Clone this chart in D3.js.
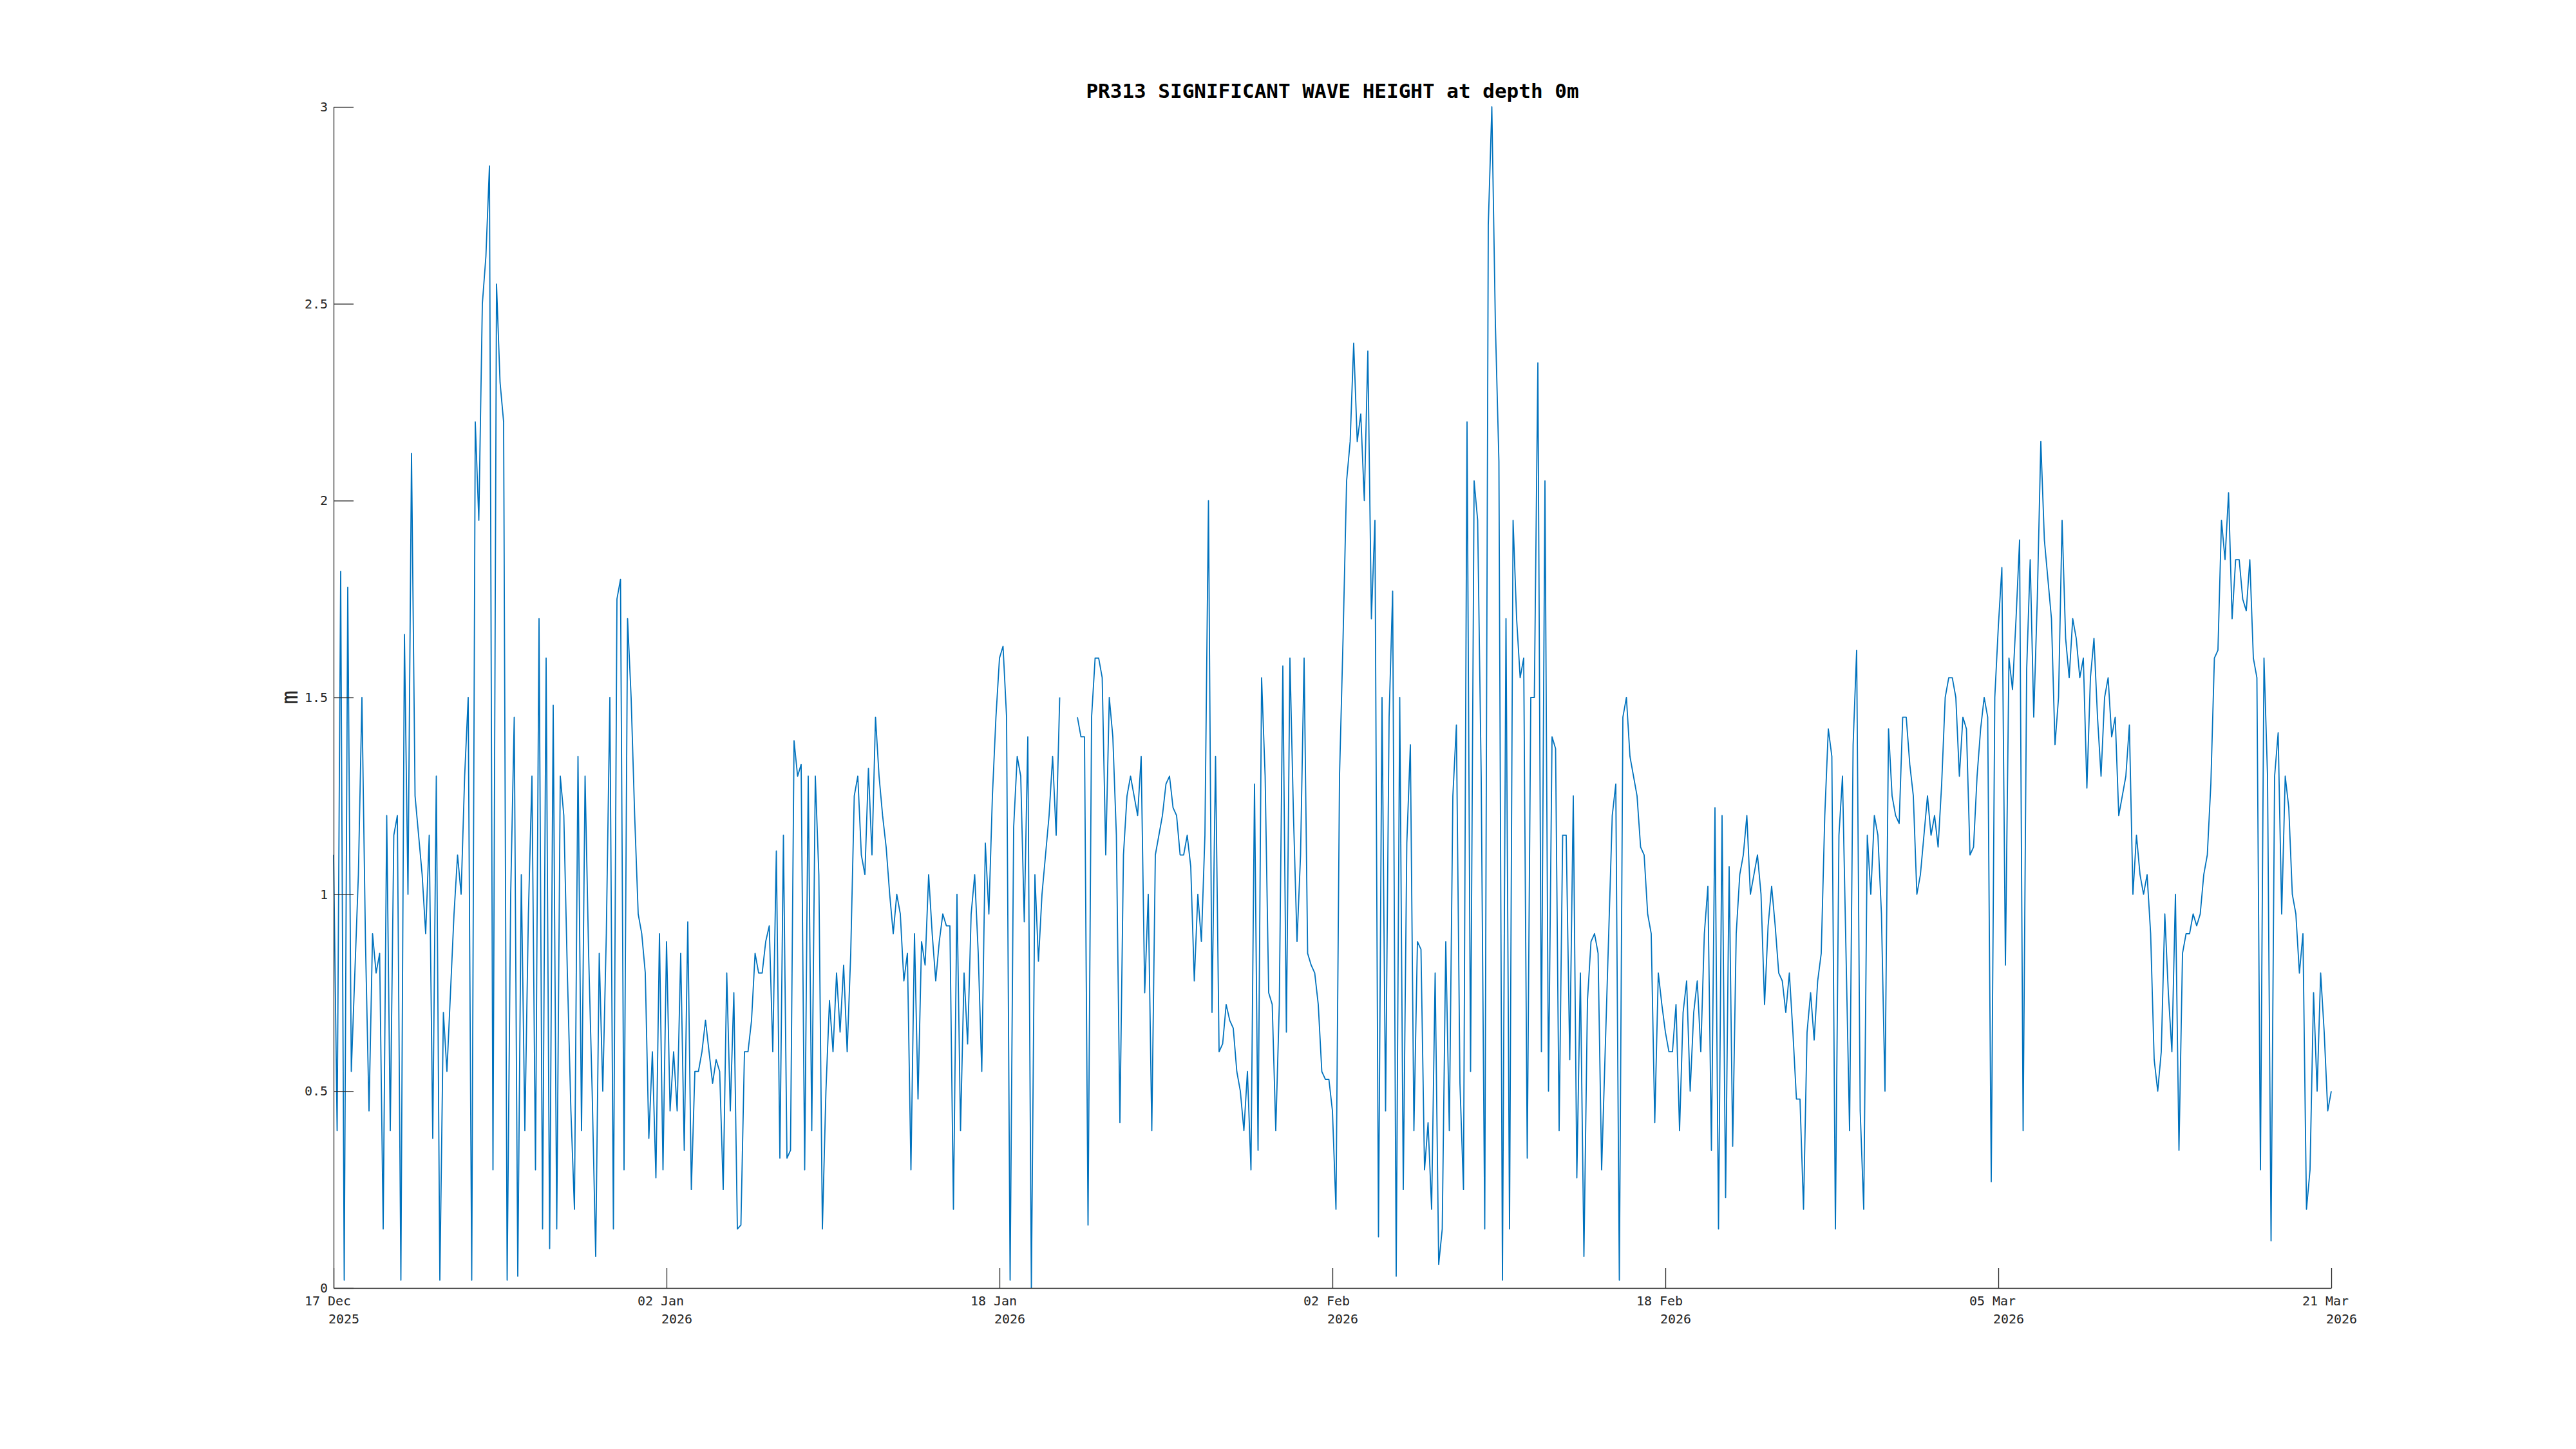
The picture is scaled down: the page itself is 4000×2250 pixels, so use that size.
<!DOCTYPE html>
<html><head><meta charset="utf-8">
<script src="https://cdn.jsdelivr.net/npm/d3@7"></script>
<style>html,body{margin:0;padding:0;background:#fff;}</style>
</head><body>
<svg id="chart" width="4000" height="2250"></svg>
<script>
const chartTitle = "PR313 SIGNIFICANT WAVE HEIGHT at depth 0m";
const yLabel = "m";
const startTime = "2025-12-17T00:00:00Z";
const endTime = "2026-03-21T00:00:00Z";
const sampleHours = 4;
const xTickLabels = ["17 Dec","02 Jan","18 Jan","02 Feb","18 Feb","05 Mar","21 Mar"];
const xTickYears = ["2025","2026","2026","2026","2026","2026","2026"];
const yTicks = [0,0.5,1,1.5,2,2.5,3];
const yTickLabels = ["0","0.5","1","1.5","2","2.5","3"];

// significant wave height (m), one value every 4 h from 17 Dec 2025 00:00 (null = no data)
const waveDec = [
1.1,0.4,1.82,0.02,1.78,0.55, 0.8,1.05,1.5,0.88,0.45,0.9, 0.8,0.85,0.15,1.2,0.4,1.15,
1.2,0.02,1.66,1.0,2.12,1.25, 1.15,1.05,0.9,1.15,0.38,1.3, 0.02,0.7,0.55,0.75,0.95,1.1,
1.0,1.3,1.5,0.02,2.2,1.95, 2.5,2.62,2.85,0.3,2.55,2.3, 2.2,0.02,1.0,1.45,0.03,1.05,
0.4,0.95,1.3,0.3,1.7,0.15, 1.6,0.1,1.48,0.15,1.3,1.2, 0.8,0.45,0.2,1.35,0.4,1.3,
0.85,0.5,0.08,0.85,0.5,0.9, 1.5,0.15,1.75,1.8,0.3,1.7, 1.5,1.2,0.95,0.9,0.8,0.38
];
const waveJan = [
0.6,0.28,0.9,0.3,0.88,0.45, 0.6,0.45,0.85,0.35,0.93,0.25, 0.55,0.55,0.6,0.68,0.6,0.52,
0.58,0.55,0.25,0.8,0.45,0.75, 0.15,0.16,0.6,0.6,0.68,0.85, 0.8,0.8,0.88,0.92,0.6,1.11,
0.33,1.15,0.33,0.35,1.39,1.3, 1.33,0.3,1.3,0.4,1.3,1.05, 0.15,0.5,0.73,0.6,0.8,0.65,
0.82,0.6,0.85,1.25,1.3,1.1, 1.05,1.32,1.1,1.45,1.3,1.2, 1.12,1.0,0.9,1.0,0.95,0.78,
0.85,0.3,0.9,0.48,0.88,0.82, 1.05,0.9,0.78,0.88,0.95,0.92, 0.92,0.2,1.0,0.4,0.8,0.62,
0.95,1.05,0.85,0.55,1.13,0.95, 1.25,1.45,1.6,1.63,1.45,0.02, 1.17,1.35,1.3,0.93,1.4,0.0,
1.05,0.83,1.0,1.1,1.2,1.35, 1.15,1.5,null,null,null,null, 1.45,1.4,1.4,0.16,1.45,1.6,
1.6,1.55,1.1,1.5,1.4,1.15, 0.42,1.1,1.25,1.3,1.25,1.2, 1.35,0.75,1.0,0.4,1.1,1.15,
1.2,1.28,1.3,1.22,1.2,1.1, 1.1,1.15,1.07,0.78,1.0,0.88, 1.15,2.0,0.7,1.35,0.6,0.62,
0.72,0.68,0.66,0.55,0.5,0.4, 0.55,0.3,1.28,0.35,1.55,1.3, 0.75,0.72,0.4,0.72,1.58,0.65,
1.6,1.2,0.88,1.1,1.6,0.85
];
const waveFeb = [
0.82,0.8,0.72,0.55,0.53,0.53, 0.45,0.2,1.3,1.65,2.05,2.15, 2.4,2.15,2.22,2.0,2.38,1.7,
1.95,0.13,1.5,0.45,1.45,1.77, 0.03,1.5,0.25,1.13,1.38,0.4, 0.88,0.86,0.3,0.42,0.2,0.8,
0.06,0.15,0.88,0.4,1.25,1.43, 0.52,0.25,2.2,0.55,2.05,1.95, 1.3,0.15,2.7,3.0,2.45,2.1,
0.02,1.7,0.15,1.95,1.7,1.55, 1.6,0.33,1.5,1.5,2.35,0.6, 2.05,0.5,1.4,1.37,0.4,1.15,
1.15,0.58,1.25,0.28,0.8,0.08, 0.73,0.88,0.9,0.85,0.3,0.6, 0.9,1.2,1.28,0.02,1.45,1.5,
1.35,1.3,1.25,1.12,1.1,0.95, 0.9,0.42,0.8,0.72,0.65,0.6, 0.6,0.72,0.4,0.7,0.78,0.5,
0.7,0.78,0.6,0.9,1.02,0.35, 1.22,0.15,1.2,0.23,1.07,0.36, 0.9,1.05,1.1,1.2,1.0,1.05,
1.1,1.0,0.72,0.92,1.02,0.92, 0.8,0.78,0.7,0.8,0.65,0.48, 0.48,0.2,0.65,0.75,0.63,0.78,
0.85,1.2,1.42,1.35,0.15,1.15, 1.3,0.85,0.4,1.38,1.62,0.45, 0.2,1.15,1.0,1.2,1.15,0.95,
0.5,1.42,1.25,1.2,1.18,1.45
];
const waveMar = [
1.45,1.33,1.25,1.0,1.05,1.15, 1.25,1.15,1.2,1.12,1.28,1.5, 1.55,1.55,1.5,1.3,1.45,1.42,
1.1,1.12,1.3,1.42,1.5,1.45, 0.27,1.5,1.68,1.83,0.82,1.6, 1.52,1.7,1.9,0.4,1.57,1.85,
1.45,1.75,2.15,1.9,1.8,1.7, 1.38,1.5,1.95,1.65,1.55,1.7, 1.65,1.55,1.6,1.27,1.55,1.65,
1.45,1.3,1.5,1.55,1.4,1.45, 1.2,1.25,1.3,1.43,1.0,1.15, 1.05,1.0,1.05,0.9,0.58,0.5,
0.6,0.95,0.75,0.6,1.0,0.35, 0.85,0.9,0.9,0.95,0.92,0.95, 1.05,1.1,1.28,1.6,1.62,1.95,
1.85,2.02,1.7,1.85,1.85,1.75, 1.72,1.85,1.6,1.55,0.3,1.6, 1.3,0.12,1.3,1.41,0.95,1.3,
1.22,1.0,0.95,0.8,0.9,0.2, 0.3,0.75,0.5,0.8,0.65,0.45, 0.5
];

const W = 4000, H = 2250;
const margin = {left: 518, right: 4000 - 3620, top: 166, bottom: 2250 - 2000};
const axisColor = "#262626";
const lineColor = "#0072BD";
const fontFamily = "'DejaVu Sans Mono', 'Liberation Mono', monospace";

const t0 = new Date(startTime), t1 = new Date(endTime);
const values = [].concat(waveDec, waveJan, waveFeb, waveMar);
const data = values.map((v, i) => ({t: new Date(t0.getTime() + i * sampleHours * 3600e3), v}));

const svg = d3.select("#chart");
svg.append("rect").attr("width", W).attr("height", H).attr("fill", "#fff");

const x = d3.scaleUtc().domain([t0, t1]).range([margin.left, W - margin.right]);
const y = d3.scaleLinear().domain([0, 3]).range([H - margin.bottom, margin.top]);

// line
const line = d3.line().defined(d => d.v != null).x(d => x(d.t)).y(d => y(d.v));
svg.append("path").datum(data)
  .attr("fill", "none").attr("stroke", lineColor).attr("stroke-width", 1.8)
  .attr("stroke-linejoin", "round").attr("d", line);

// y axis
const yAxis = d3.axisLeft(y).tickValues(yTicks)
  .tickFormat((d, i) => yTickLabels[i]).tickSizeInner(-31).tickSizeOuter(0).tickPadding(9);
const gy = svg.append("g").attr("transform", `translate(${margin.left},0)`).call(yAxis);
gy.select(".domain").attr("stroke", axisColor).attr("stroke-width", 1.3);
gy.selectAll(".tick line").attr("stroke", axisColor).attr("stroke-width", 1.3);
gy.selectAll(".tick text").attr("fill", axisColor).attr("font-size", 20).attr("font-family", fontFamily);

// x axis
const nT = xTickLabels.length;
const tickDates = xTickLabels.map((_, i) => new Date(t0.getTime() + (t1 - t0) * i / (nT - 1)));
const xAxis = d3.axisBottom(x).tickValues(tickDates).tickFormat("").tickSizeInner(-31).tickSizeOuter(0);
const gx = svg.append("g").attr("transform", `translate(0,${H - margin.bottom})`).call(xAxis);
gx.select(".domain").attr("stroke", axisColor).attr("stroke-width", 1.3);
gx.selectAll(".tick line").attr("stroke", axisColor).attr("stroke-width", 1.3);
const lbl = svg.append("g").attr("font-family", fontFamily).attr("font-size", 20).attr("fill", axisColor);
tickDates.forEach((d, i) => {
  lbl.append("text").attr("x", x(d) - 9).attr("y", 2027).attr("text-anchor", "middle").text(xTickLabels[i]);
  lbl.append("text").attr("x", x(d) + 16).attr("y", 2055).attr("text-anchor", "middle").text(xTickYears[i]);
});

// title
svg.append("text").attr("x", (margin.left + W - margin.right) / 2).attr("y", 152)
  .attr("text-anchor", "middle").attr("font-family", fontFamily).attr("font-weight", "bold")
  .attr("font-size", 31).attr("fill", "#000").text(chartTitle);

// y label
svg.append("text").attr("transform", `translate(462,${(margin.top + H - margin.bottom) / 2}) rotate(-90)`)
  .attr("text-anchor", "middle").attr("font-family", fontFamily).attr("font-size", 36)
  .attr("fill", axisColor).text(yLabel);
</script>
</body></html>
